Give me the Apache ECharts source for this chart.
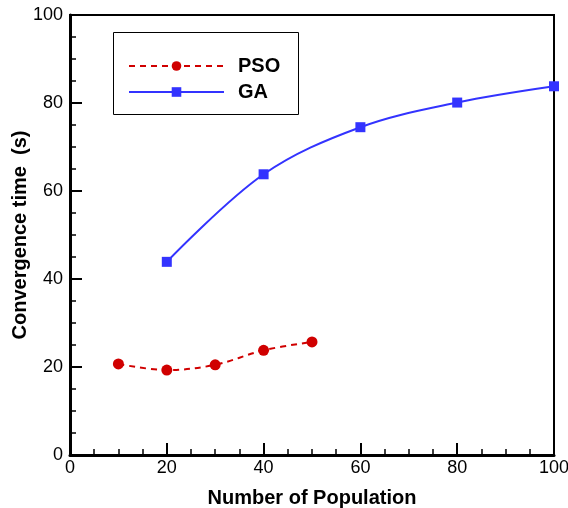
<!DOCTYPE html>
<html><head><meta charset="utf-8">
<script src="https://cdn.jsdelivr.net/npm/echarts@6/dist/echarts.min.js"></script>
<style>html,body{margin:0;padding:0;background:#fff}#c{width:568px;height:508px}</style>
</head><body><div id="c"></div>
<script>
var psoX = [10, 20, 30, 40, 50];
var psoY = [20.7, 19.3, 20.5, 23.8, 25.7];
var gaX = [20, 40, 60, 80, 100];
var gaY = [43.9, 63.8, 74.5, 80.1, 83.8];
var xTicks = [0, 20, 40, 60, 80, 100];
var yTicks = [0, 20, 40, 60, 80, 100];

var chart = echarts.init(document.getElementById('c'), null, {renderer: 'canvas'});
var font = 'Liberation Sans, Arial, sans-serif';
function pairs(xs, ys){ return xs.map(function(x,i){return [x, ys[i]];}); }
var axisCommon = {
  axisLine: {show: true, onZero: false, lineStyle: {color: '#000', width: 3}},
  axisTick: {show: true, inside: true, length: 12, lineStyle: {color: '#000', width: 2}},
  minorTick: {show: true, splitNumber: 4, length: 6, lineStyle: {color: '#000', width: 1.5}},
  splitLine: {show: false}
};
chart.setOption({
  animation: false,
  grid: {left: 70, right: 14, top: 15, bottom: 53, containLabel: false, outerBoundsMode: 'none',
    show: true, borderColor: '#000', borderWidth: 2, backgroundColor: 'transparent'},
  xAxis: Object.assign({}, axisCommon, {
    type: 'value', min: xTicks[0], max: xTicks[xTicks.length-1], interval: 20,
    name: 'Number of Population', nameLocation: 'middle', nameGap: 33, nameMoveOverlap: false,
    nameTextStyle: {color: '#000', fontSize: 20, fontWeight: 'bold', fontFamily: font},
    axisLabel: {color: '#000', fontSize: 18, fontFamily: font, margin: 4}
  }),
  yAxis: Object.assign({}, axisCommon, {
    type: 'value', min: yTicks[0], max: yTicks[yTicks.length-1], interval: 20,
    name: 'Convergence time  (s)', nameLocation: 'middle', nameGap: 40, nameMoveOverlap: false,
    nameTextStyle: {color: '#000', fontSize: 20, fontWeight: 'bold', fontFamily: font},
    axisLabel: {color: '#000', fontSize: 18, fontFamily: font, margin: 7}
  }),
  legend: {
    orient: 'vertical', left: 123, top: 51, itemWidth: 95, itemHeight: 12, itemGap: 6,
    textStyle: {color: '#000', fontSize: 20, fontWeight: 'bold', fontFamily: font, padding: [0,0,0,9]},
    data: ['PSO', 'GA']
  },
  graphic: [{type: 'rect', shape: {x: 113.5, y: 32.5, width: 185, height: 82}, style: {fill: 'none', stroke: '#000', lineWidth: 1}, z: 1}],
  series: [
    {name: 'PSO', type: 'line', smooth: 0.35, data: pairs(psoX, psoY), symbol: 'circle', symbolSize: 11,
      lineStyle: {color: '#d00000', width: 2, type: [6, 5]}, itemStyle: {color: '#d00000'}},
    {name: 'GA', type: 'line', smooth: 0.35, data: pairs(gaX, gaY), symbol: 'rect', symbolSize: 10,
      lineStyle: {color: '#3333ff', width: 2}, itemStyle: {color: '#3333ff'}}
  ]
});
</script></body></html>
